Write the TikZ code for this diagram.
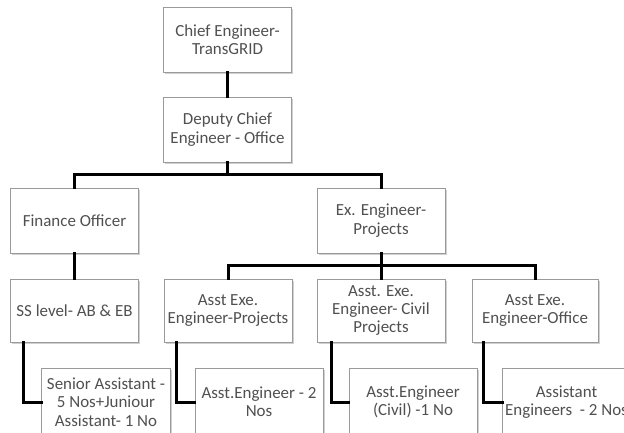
\documentclass[tikz,border=0pt]{standalone}
\usepackage{fontspec}
\setmainfont{Carlito}
\usetikzlibrary{shadows}
\definecolor{boxline}{HTML}{9A9A9A}
\definecolor{txt}{HTML}{505050}
\tikzset{
  box/.style={draw=boxline, line width=1bp, fill=white, align=center,
    text=txt, font=\fontsize{17}{18.5}\selectfont, inner sep=0bp,
    minimum width=128bp, minimum height=65bp,
    drop shadow={shadow xshift=1.5bp, shadow yshift=-1.5bp, fill=black!30, opacity=0.6}},
  link/.style={line width=3bp, black, line cap=rect}
}
\begin{document}
\begin{tikzpicture}[x=1bp,y=-1bp]
\useasboundingbox (0,0) rectangle (624,432);
\clip (0,0) rectangle (624,432);
\fill[white] (0,0) rectangle (624,432);
\node[box] (chief) at (227.5,39.5) {Chief Engineer-\\TransGRID};
\node[box] (dep) at (227.5,129.5) {Deputy Chief\\Engineer - Office};
\node[box] (fin) at (74.5,220.5) {Finance Officer};
\node[box] (ex) at (381,220.5) {Ex. Engineer-\\Projects};
\node[box, minimum height=63bp] (ss) at (74.5,310.5) {SS level- AB \& EB};
\node[box, minimum height=63bp] (ap) at (228,310.5) {Asst Exe.\\Engineer-Projects};
\node[box, minimum height=63bp] (ac) at (381,310.5) {Asst. Exe.\\Engineer- Civil\\Projects};
\node[box, minimum height=63bp, minimum width=126bp] (ao) at (535,310.5) {Asst Exe.\\Engineer-Office};
\node[box, minimum height=68bp] (sen) at (106,402) {Senior Assistant -\\5 Nos+Juniour\\Assistant- 1 No};
\node[box, minimum height=68bp] (ae) at (259,402) {Asst.Engineer - 2\\Nos};
\node[box, minimum height=68bp] (ace) at (413,402) {Asst.Engineer\\(Civil) -1 No};
\node[box, minimum height=68bp, anchor=west] (aen) at (502,402) {Assistant\\\makebox[110bp][c]{Engineers\ \ - 2 Nos}};
\draw[link] (chief.south) -- (dep.north);
\draw[link] (dep.south) -- ++(0,12) -| (fin.north);
\draw[link] (dep.south) ++(0,12) -| (ex.north);
\draw[link] (fin.south) -- (ss.north);
\draw[link] (ex.south) -- ++(0,12) -| (ap.north);
\draw[link] (ex.south) -- (ac.north);
\draw[link] (ex.south) ++(0,12) -| (ao.north);
\draw[link] ([xshift=14bp]ss.south west) |- (sen.west);
\draw[link] ([xshift=13bp]ap.south west) |- (ae.west);
\draw[link] ([xshift=15bp]ac.south west) |- (ace.west);
\draw[link] ([xshift=12bp]ao.south west) |- (aen.west);
\end{tikzpicture}
\end{document}
